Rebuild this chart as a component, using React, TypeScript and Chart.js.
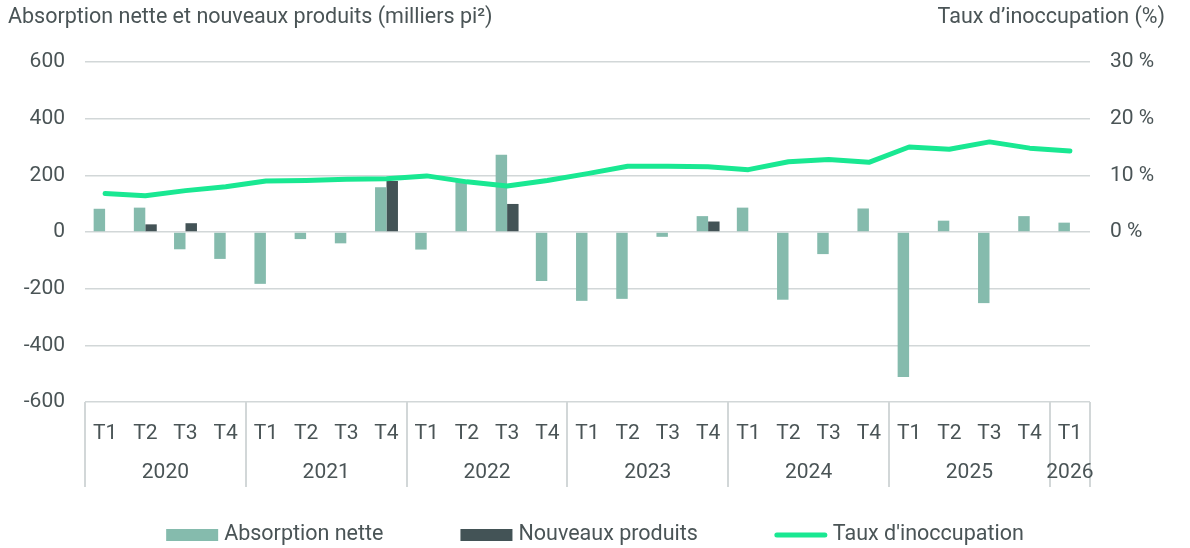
import React, { useEffect, useRef } from "react";
import { Chart, registerables } from "chart.js";

Chart.register(...registerables);

const quarters = [
  "T1", "T2", "T3", "T4",
  "T1", "T2", "T3", "T4",
  "T1", "T2", "T3", "T4",
  "T1", "T2", "T3", "T4",
  "T1", "T2", "T3", "T4",
  "T1", "T2", "T3", "T4",
  "T1",
];
const years = ["2020", "2021", "2022", "2023", "2024", "2025", "2026"];
const quartersPerYear = [4, 4, 4, 4, 4, 4, 1];

const absorption = [
  82, 86, -61, -95,
  -183, -25, -40, 158,
  -62, 178, 273, -173,
  -243, -236, -17, 56,
  86, -239, -78, 83,
  -512, 40, -251, 56,
  33,
];
const newProducts = [
  null, 27, 31, null,
  null, null, null, 180,
  null, null, 99, null,
  null, null, null, 37,
  null, null, null, null,
  null, null, null, null,
  null,
];
const vacancy = [
  6.8, 6.4, 7.3, 8.0,
  9.0, 9.1, 9.3, 9.4,
  9.9, 8.85, 8.1, 9.1,
  10.3, 11.6, 11.6, 11.5,
  11.0, 12.4, 12.8, 12.3,
  15.0, 14.6, 15.9, 14.8,
  14.3,
];

const leftTitle = "Absorption nette et nouveaux produits (milliers pi²)";
const rightTitle = "Taux d’inoccupation (%)";
const seriesNames = ["Absorption nette", "Nouveaux produits", "Taux d'inoccupation"];

const FONT = "Roboto, 'Noto Sans', sans-serif";
const TEXT = "#4a5456";
const GRID = "#d2d7d8";
const C_ABS = "#85bbad";
const C_NEW = "#435356";
const C_VAC = "#19e892";
const TICK_SIZE = 21;
const LABEL_SIZE = 21.5;

const overlay = {
  id: "overlay",
  afterDraw(chart: any) {
    const ctx = chart.ctx as CanvasRenderingContext2D;
    const area = chart.chartArea;
    const n = quarters.length;
    const step = (area.right - area.left) / n;
    ctx.save();

    // year separators
    ctx.strokeStyle = GRID;
    ctx.lineWidth = 2;
    const bounds: number[] = [0];
    let acc = 0;
    quartersPerYear.forEach((q) => {
      acc += q;
      bounds.push(acc);
    });
    bounds.forEach((b) => {
      const px = Math.round(area.left + b * step);
      ctx.beginPath();
      ctx.moveTo(px, area.bottom);
      ctx.lineTo(px, area.bottom + 85);
      ctx.stroke();
    });

    // year labels
    ctx.fillStyle = TEXT;
    ctx.font = `${TICK_SIZE}px ${FONT}`;
    ctx.textAlign = "center";
    ctx.textBaseline = "middle";
    years.forEach((y, i) => {
      const cx = area.left + ((bounds[i] + bounds[i + 1]) / 2) * step;
      ctx.fillText(y, cx, 473);
    });

    // titles
    ctx.font = `${LABEL_SIZE}px ${FONT}`;
    ctx.textAlign = "left";
    ctx.fillText(leftTitle, 8, 18);
    ctx.textAlign = "right";
    ctx.fillText(rightTitle, 1165, 18);

    // legend
    const boxW = 52;
    const textGap = 6;
    const itemGap = 77;
    ctx.textAlign = "left";
    const widths = seriesNames.map((s) => ctx.measureText(s).width);
    const total = widths.reduce((a, w) => a + boxW + textGap + w, 0) + itemGap * (seriesNames.length - 1);
    let x = chart.width / 2 - total / 2;
    const ly = 535;
    seriesNames.forEach((s, i) => {
      if (i < 2) {
        ctx.fillStyle = i === 0 ? C_ABS : C_NEW;
        ctx.fillRect(x, ly - 6, boxW, 12);
      } else {
        ctx.strokeStyle = C_VAC;
        ctx.lineWidth = 5;
        ctx.lineCap = "round";
        ctx.beginPath();
        ctx.moveTo(x + 2, ly);
        ctx.lineTo(x + boxW - 2, ly);
        ctx.stroke();
      }
      ctx.fillStyle = TEXT;
      ctx.fillText(s, x + boxW + textGap, ly);
      x += boxW + textGap + widths[i] + itemGap;
    });

    ctx.restore();
  },
};

export default function App() {
  const ref = useRef<HTMLCanvasElement | null>(null);

  useEffect(() => {
    if (!ref.current) return;
    const chart = new Chart(ref.current, {
      data: {
        labels: quarters,
        datasets: [
          {
            type: "line",
            label: seriesNames[2],
            data: vacancy,
            yAxisID: "y1",
            borderColor: C_VAC,
            backgroundColor: C_VAC,
            borderWidth: 5,
            pointRadius: 0,
            tension: 0,
            borderCapStyle: "round",
            borderJoinStyle: "round",
            order: 0,
          },
          {
            type: "bar",
            label: seriesNames[0],
            data: absorption,
            yAxisID: "y",
            backgroundColor: C_ABS,
            borderWidth: 0,
            categoryPercentage: 0.57,
            barPercentage: 1,
            order: 1,
          },
          {
            type: "bar",
            label: seriesNames[1],
            data: newProducts as any,
            yAxisID: "y",
            backgroundColor: C_NEW,
            borderWidth: 0,
            categoryPercentage: 0.57,
            barPercentage: 1,
            order: 1,
          },
        ],
      } as any,
      options: {
        animation: false,
        responsive: true,
        maintainAspectRatio: false,
        events: [],
        layout: { padding: { top: 62, left: 0, right: 0, bottom: 0 } },
        plugins: {
          legend: { display: false },
          tooltip: { enabled: false },
          title: { display: false },
        },
        scales: {
          x: {
            type: "category",
            grid: { display: false, drawTicks: false },
            border: { display: false },
            ticks: {
              font: { family: FONT, size: TICK_SIZE },
              color: TEXT,
              padding: 19,
              maxRotation: 0,
              autoSkip: false,
            },
            afterFit: (s: any) => {
              s.height = 146;
            },
          },
          y: {
            type: "linear",
            position: "left",
            min: -600,
            max: 600,
            grid: { color: GRID, lineWidth: 1.5, drawTicks: false },
            border: { display: false },
            ticks: {
              stepSize: 200,
              font: { family: FONT, size: TICK_SIZE },
              color: TEXT,
              padding: 20,
            },
            afterFit: (s: any) => {
              s.width = 85;
            },
          },
          y1: {
            type: "linear",
            position: "right",
            min: -30,
            max: 30,
            grid: { display: false, drawOnChartArea: false, drawTicks: false },
            border: { display: false },
            ticks: {
              stepSize: 10,
              font: { family: FONT, size: TICK_SIZE },
              color: TEXT,
              padding: 20,
              callback: (v: any) => (Number(v) >= 0 ? `${v} %` : ""),
            },
            afterFit: (s: any) => {
              s.width = 100;
            },
          },
        },
      },
      plugins: [overlay],
    });
    return () => chart.destroy();
  }, []);

  return (
    <div style={{ position: "absolute", left: 0, top: 0, width: 1190, height: 548, background: "#fff" }}>
      <canvas ref={ref} />
    </div>
  );
}
